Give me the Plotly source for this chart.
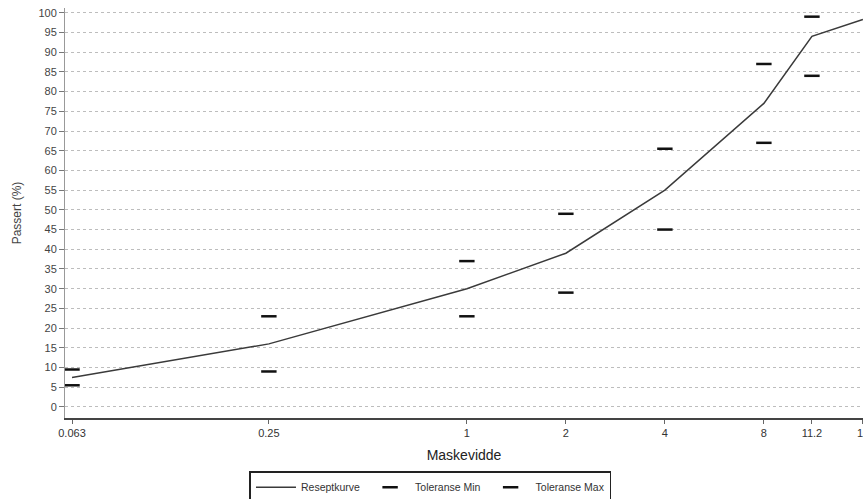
import plotly.graph_objects as go

sieve = [0.063, 0.25, 1, 2, 4, 8, 11.2, 16]
resept = [7.5, 16, 30, 39, 55, 77, 94, 98.3]
tol_sieve = [0.063, 0.25, 1, 2, 4, 8, 11.2]
tol_min = [5.5, 9, 23, 29, 45, 67, 84]
tol_max = [9.5, 23, 37, 49, 65.5, 87, 99]
x_ticks = [0.063, 0.25, 1, 2, 4, 8, 11.2]
x_labels = ["0.063", "0.25", "1", "2", "4", "8", "11.2"]
edge_tick = 16
edge_label = "16"
y_ticks = list(range(0, 101, 5))

fig = go.Figure()
fig.add_trace(go.Scatter(x=sieve, y=resept, mode="lines", name="Reseptkurve",
                         line=dict(color="#3a3a3a", width=1.5)))
fig.add_trace(go.Scatter(x=tol_sieve, y=tol_min, mode="markers", name="Toleranse Min",
                         marker=dict(symbol="line-ew", size=11,
                                     line=dict(color="#111", width=2.5))))
fig.add_trace(go.Scatter(x=tol_sieve, y=tol_max, mode="markers", name="Toleranse Max",
                         marker=dict(symbol="line-ew", size=11,
                                     line=dict(color="#111", width=2.5))))

import math
fig.add_annotation(x=math.log10(edge_tick), xref="x", y=0, yref="paper",
                   text=edge_label, showarrow=False, yanchor="top", yshift=-7,
                   font=dict(size=11, color="#333"))

fig.update_layout(
    width=863, height=499,
    margin=dict(l=65, r=0, t=8, b=81, autoexpand=False),
    paper_bgcolor="white", plot_bgcolor="white",
    font=dict(family="Liberation Sans, Arial, sans-serif", color="#333", size=11),
    showlegend=True,
    legend=dict(orientation="h", x=0.458, xanchor="center", y=-0.13, yanchor="top",
                bordercolor="#222", borderwidth=1.5, bgcolor="white",
                font=dict(size=10.5, color="#333"), itemwidth=40,
                tracegroupgap=0, valign="middle"),
    xaxis=dict(type="log", range=[-1.222, 1.2045], automargin=False,
               tickvals=x_ticks + [edge_tick], ticktext=x_labels + [""],
               ticks="outside", ticklen=4, tickcolor="#666",
               showgrid=False, zeroline=False,
               showline=True, linecolor="#444", linewidth=1.5,
               tickfont=dict(size=11, color="#333"),
               title=dict(text="Maskevidde", font=dict(size=14, color="#222"), standoff=12)),
    yaxis=dict(range=[-2.8, 101.2], tickvals=y_ticks, automargin=False,
               ticks="outside", ticklen=5, tickcolor="#777",
               showgrid=True, gridcolor="#bdbdbd", griddash="dot", gridwidth=1,
               zeroline=False, showline=True, linecolor="#999", linewidth=1,
               tickfont=dict(size=11, color="#444"),
               title=dict(text="Passert (%)", font=dict(size=12, color="#444"), standoff=14)),
)

fig.write_html("out.html", config={"displayModeBar": False},
               post_script="document.body.style.margin='0';document.body.style.overflow='hidden';")
